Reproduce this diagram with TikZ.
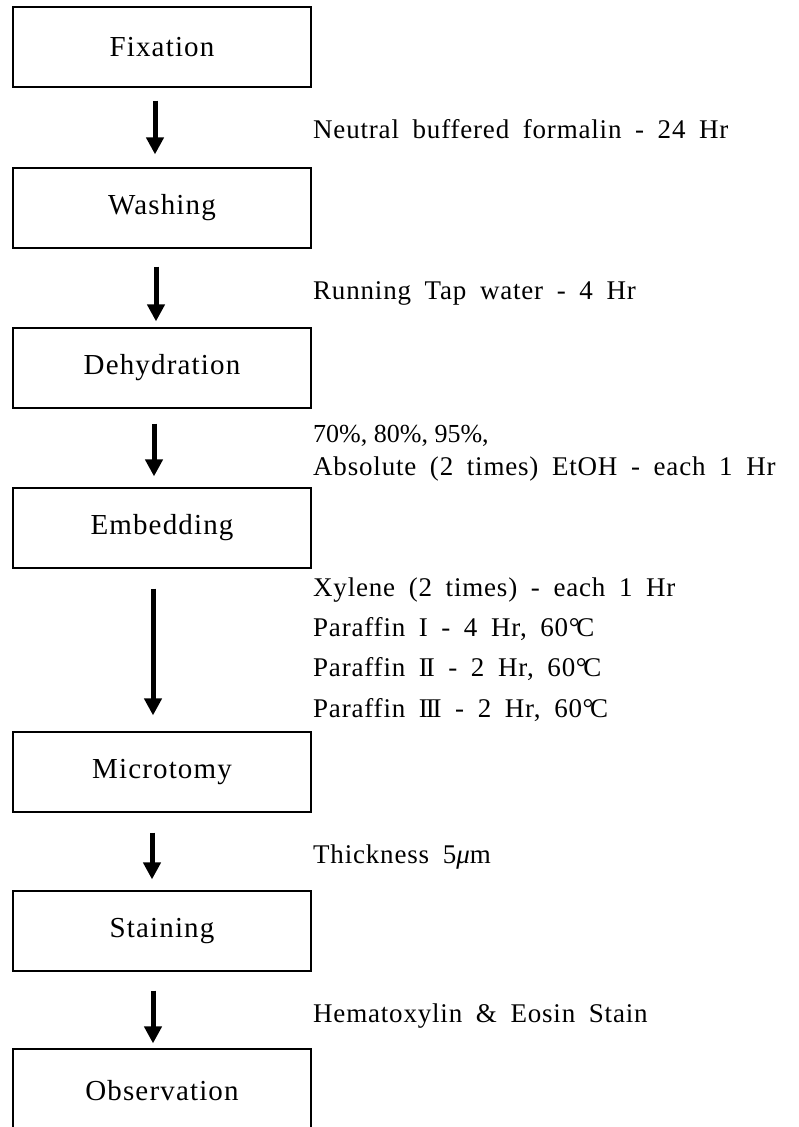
\documentclass[tikz,border=0pt]{standalone}
\usepackage{fontspec}
\setmainfont{Liberation Serif}
\newfontfamily\boxfont[LetterSpace=4,WordSpace=1.3]{Liberation Serif}
\newfontfamily\sidefont[LetterSpace=3,WordSpace=1.8]{Liberation Serif}
\newfontfamily\plainfont{Liberation Serif}
\usetikzlibrary{arrows.meta}
\newcommand{\degC}{\kern0.02em°\kern-0.12em C}
\newcommand{\romII}{I\kern-0.08em I}
\newcommand{\romIII}{I\kern-0.08em I\kern-0.08em I}
\tikzset{
  stepbox/.style={draw=black, line width=1.2pt, minimum width=298pt, minimum height=80pt,
    inner sep=0pt, font=\boxfont\fontsize{29}{32}\selectfont},
  sidetext/.style={anchor=base west, inner sep=0pt, font=\sidefont\fontsize{27}{32}\selectfont},
  flowarrow/.style={line width=5pt, -{Triangle[width=17pt,length=17pt]}}
}
\begin{document}
\begin{tikzpicture}[x=1pt,y=-1pt]
\useasboundingbox (0,0) rectangle (798,1127);
\fill[white] (0,0) rectangle (798,1127);

\node[stepbox] (fix)  at (162,47)   {Fixation};
\node[stepbox] (wash) at (162,208)  {Washing};
\node[stepbox] (dehy) at (162,368)  {Dehydration};
\node[stepbox] (emb)  at (162,528)  {Embedding};
\node[stepbox] (mic)  at (162,772)  {Microtomy};
\node[stepbox] (stn)  at (162,931)  {Staining};
\node[stepbox, minimum height=84pt] (obs) at (162,1091) {Observation};

\draw[flowarrow, shorten <=13pt, shorten >=13pt] ([xshift=-7pt]fix.south) -- ([xshift=-7pt]wash.north);
\draw[flowarrow, shorten <=18pt, shorten >=6pt] ([xshift=-6pt]wash.south) -- ([xshift=-6pt]dehy.north);
\draw[flowarrow, shorten <=15pt, shorten >=11pt] ([xshift=-8pt]dehy.south) -- ([xshift=-8pt]emb.north);
\draw[flowarrow, shorten <=20pt, shorten >=16pt] ([xshift=-9pt]emb.south) -- ([xshift=-9pt]mic.north);
\draw[flowarrow, shorten <=20pt, shorten >=11pt] ([xshift=-10pt]mic.south) -- ([xshift=-10pt]stn.north);
\draw[flowarrow, shorten <=19pt, shorten >=5pt] ([xshift=-9pt]stn.south) -- ([xshift=-9pt]obs.north);

\node[sidetext] (t1) at (313,138) {Neutral buffered formalin - 24 Hr};
\node[sidetext] (t2) at (313,299) {Running Tap water - 4 Hr};
\node[sidetext, font=\plainfont\fontsize{26}{30}\selectfont] (t3) at (313,442) {70\%, 80\%, 95\%,};
\node[sidetext] (t4) at (313,475) {Absolute (2 times) EtOH - each 1 Hr};
\node[sidetext] (t5) at (313,596) {Xylene (2 times) - each 1 Hr};
\node[sidetext] (t6) at (313,636) {Paraffin\enspace I\enspace - 4 Hr, 60\degC};
\node[sidetext] (t7) at (313,676) {Paraffin \romII\ - 2 Hr, 60\degC};
\node[sidetext] (t8) at (313,717) {Paraffin \romIII\ - 2 Hr, 60\degC};
\node[sidetext] (t9) at (313,863) {Thickness 5{\itshape μ}m};
\node[sidetext] (t10) at (313,1022) {Hematoxylin \& Eosin Stain};
\end{tikzpicture}
\end{document}
